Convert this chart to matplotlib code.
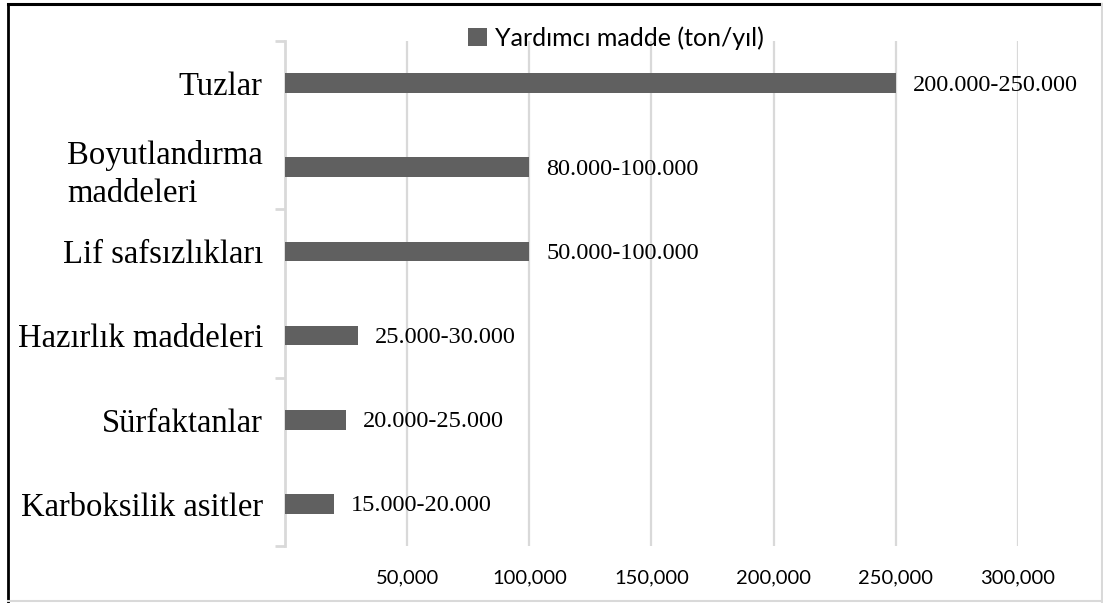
import matplotlib
matplotlib.use('Agg')
import matplotlib.pyplot as plt
from matplotlib.lines import Line2D
from matplotlib.ticker import FixedLocator, FuncFormatter

# data
categories = ['Tuzlar', 'Boyutlandırma\nmaddeleri', 'Lif safsızlıkları',
              'Hazırlık maddeleri', 'Sürfaktanlar', 'Karboksilik asitler']
values = [250000, 100000, 100000, 30000, 25000, 20000]
ranges = ['200.000-250.000', '80.000-100.000', '50.000-100.000',
          '25.000-30.000', '20.000-25.000', '15.000-20.000']
xticks = [50000, 100000, 150000, 200000, 250000, 300000]
series_name = 'Yardımcı madde (ton/yıl)'

bar_color = '#606060'
grid_color = '#d9d9d9'
serif = 'Liberation Serif'
sans = 'Lato'

fig = plt.figure(figsize=(11.03, 6.03), dpi=100)
ax = fig.add_axes([0.2584, 0.0945, 0.6645, 0.8375])

ypos = list(range(len(categories)))
bars = ax.barh(ypos, values, height=0.235, color=bar_color, label=series_name, zorder=3)

ax.set_xlim(0, 300000)
ax.set_ylim(5.5, -0.5)

# grid
ax.xaxis.set_major_locator(FixedLocator(xticks))
ax.xaxis.set_major_formatter(FuncFormatter(lambda v, p: f'{int(v):,}'))
ax.grid(axis='x', color=grid_color, linewidth=1.6, zorder=0)
ax.tick_params(axis='x', length=0, pad=17, labelsize=14.5)
for lab in ax.get_xticklabels():
    lab.set_fontfamily(sans)

# category axis
ax.set_yticks(ypos)
ax.set_yticklabels(categories, fontfamily=serif, fontsize=23.5, linespacing=1.3)
ax.yaxis.get_ticklabels()[1].set_multialignment('left')
ax.tick_params(axis='y', which='major', length=0, pad=16)
ax.yaxis.set_minor_locator(FixedLocator([-0.5, 1.5, 3.5, 5.5]))
ax.tick_params(axis='y', which='minor', length=7, width=2, color=grid_color)

for s in ['top', 'right', 'bottom']:
    ax.spines[s].set_visible(False)
ax.spines['left'].set_color(grid_color)
ax.spines['left'].set_linewidth(2)

# data labels
for b, txt in zip(bars, ranges):
    ax.annotate(txt, (b.get_width(), b.get_y() + b.get_height() / 2),
                xytext=(17, -2), textcoords='offset pixels', va='center', ha='left',
                fontfamily=serif, fontsize=17.5, clip_on=False, zorder=4)

leg = ax.legend(loc='center', bbox_to_anchor=(0.5585, 0.937), bbox_transform=fig.transFigure,
                frameon=False, prop={'family': sans, 'size': 18},
                handlelength=0.75, handleheight=0.75, handletextpad=0.35, borderaxespad=0)

# outer frame
fig.add_artist(Line2D([0.0073, 0.0073], [0.0, 0.9934], color='black', lw=2, transform=fig.transFigure))
fig.add_artist(Line2D([0.0073, 1.0], [0.9934, 0.9934], color='black', lw=2.2, transform=fig.transFigure))
fig.add_artist(Line2D([0.999, 0.999], [0.0, 0.9934], color=grid_color, lw=1.5, transform=fig.transFigure))
fig.add_artist(Line2D([0.0073, 1.0], [0.003, 0.003], color=grid_color, lw=1.5, transform=fig.transFigure))

fig.savefig('out.png', dpi=100)
